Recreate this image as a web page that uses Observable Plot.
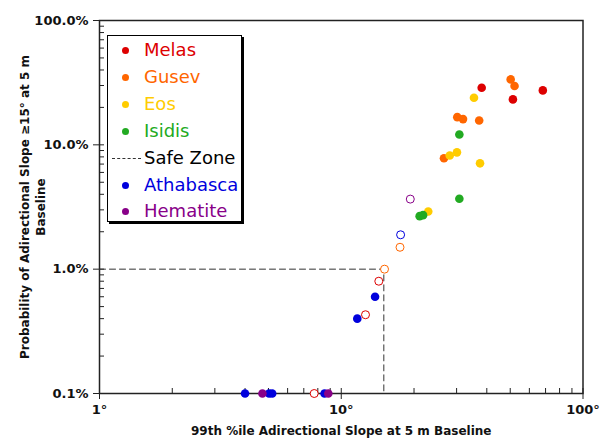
<!DOCTYPE html>
<html>
<head>
<meta charset="utf-8">
<script src="https://cdn.jsdelivr.net/npm/d3@7"></script>
<script src="https://cdn.jsdelivr.net/npm/@observablehq/plot@0.6"></script>
<style>
  html, body { margin: 0; padding: 0; background: #fff; }
  #wrap { position: relative; width: 607px; height: 442px; font-family: "DejaVu Sans", sans-serif; }
  #legend { position: absolute; left: 107px; top: 35px; width: 135px; height: 187px; border: 1px solid #000; background: #fff; box-shadow: 2px 2px 0 #000; box-sizing: border-box; }
  .row { position: absolute; left: 0; height: 20px; line-height: 20px; font-size: 18px; white-space: nowrap; }
  .row .sym { position: absolute; left: 14px; top: 7px; width: 7px; height: 7px; border-radius: 50%; }
  .row .dash { position: absolute; left: 4px; top: 10px; width: 29px; border-top: 1px dashed #333; }
  .row .lbl { position: absolute; left: 36px; top: 0; }
</style>
</head>
<body>
<div id="wrap"><div id="chart"></div><div id="legend"></div></div>
<script>
// ---- data ----
const regions = ["Melas", "Gusev", "Eos", "Isidis", "Athabasca", "Hematite"];
const regionColors = ["#dd0000", "#ff6600", "#ffcc00", "#22aa22", "#0000dd", "#880088"];

const ptRegion = [
  "Melas","Melas","Melas","Melas","Melas","Melas",
  "Gusev","Gusev","Gusev","Gusev","Gusev","Gusev","Gusev","Gusev",
  "Eos","Eos","Eos","Eos","Eos",
  "Isidis","Isidis","Isidis","Isidis",
  "Athabasca","Athabasca","Athabasca","Athabasca","Athabasca","Athabasca","Athabasca",
  "Hematite","Hematite","Hematite"
];
const ptSlope = [
  38.1, 68.2, 51.3, 14.3, 12.6, 7.73,
  50.2, 52.1, 30.2, 31.9, 37.2, 26.6, 17.5, 15.1,
  35.4, 28.1, 30.1, 37.5, 22.9,
  30.8, 30.8, 21.1, 21.8,
  13.8, 11.65, 4.0, 5.03, 5.18, 8.53, 17.6,
  4.72, 8.84, 19.3
];
const ptProb = [
  28.8, 27.4, 23.2, 0.80, 0.43, 0.1,
  33.6, 29.7, 16.7, 16.1, 15.7, 7.8, 1.50, 1.0,
  23.9, 8.2, 8.7, 7.1, 2.91,
  12.1, 3.68, 2.67, 2.72,
  0.60, 0.40, 0.1, 0.1, 0.1, 0.1, 1.89,
  0.1, 0.1, 3.66
];
const ptFilled = [
  true, true, true, false, false, false,
  true, true, true, true, true, true, false, false,
  true, true, true, true, true,
  true, true, true, true,
  true, true, true, true, true, true, false,
  true, true, false
];

const safeX = [1, 15, 15];
const safeY = [1, 1, 0.1];

const xTicks = [1, 10, 100];
const xTickLabels = ["1°", "10°", "100°"];
const yTicks = [0.1, 1, 10, 100];
const yTickLabels = ["0.1%", "1.0%", "10.0%", "100.0%"];

const xTitle = "99th %ile Adirectional Slope at 5 m Baseline";
const yTitle = "Probability of Adirectional Slope \u226515° at 5 m\nBaseline";

// ---- build ----
const points = ptSlope.map((x, i) => ({x, y: ptProb[i], region: ptRegion[i], filled: ptFilled[i]}));
const safe = safeX.map((x, i) => ({x, y: safeY[i]}));
const minorOf = (majors) => {
  const out = [];
  for (let k = 0; k < majors.length - 1; k++) for (let m = 2; m <= 9; m++) out.push(majors[k] * m);
  return out;
};
const xMinor = minorOf(xTicks);
const yMinor = minorOf(yTicks);
const colorOf = r => regionColors[regions.indexOf(r)];
const font = "DejaVu Sans, sans-serif";

const chart = Plot.plot({
  width: 607,
  height: 442,
  marginLeft: 99,
  marginRight: 24.5,
  marginTop: 20,
  marginBottom: 49,
  style: {fontFamily: font, background: "white"},
  x: {type: "log", domain: [1, 100], axis: null},
  y: {type: "log", domain: [0.1, 100], axis: null},
  marks: [
    Plot.frame({stroke: "#222", strokeWidth: 1.5}),
    // inward minor + major ticks
    Plot.axisY([...yMinor, ...yTicks], {anchor: "left", label: null, tickSize: -5, tickFormat: () => "", stroke: "#222"}),
    Plot.axisX([...xMinor, ...xTicks], {anchor: "bottom", label: null, tickSize: -5, tickFormat: () => "", stroke: "#222"}),
    // outward major ticks with labels
    Plot.axisY(yTicks, {anchor: "left", label: null, tickSize: 6, tickPadding: 5, tickFormat: d => yTickLabels[yTicks.indexOf(d)],
      fontSize: 13, fontWeight: "bold", fill: "#111", stroke: "#222"}),
    Plot.axisX(xTicks, {anchor: "bottom", label: null, tickSize: 6, tickPadding: 5, tickFormat: d => xTickLabels[xTicks.indexOf(d)],
      fontSize: 13, fontWeight: "bold", fill: "#111", stroke: "#222"}),
    Plot.line(safe, {x: "x", y: "y", stroke: "#333", strokeWidth: 1, strokeDasharray: "6,4"}),
    Plot.dot(points.filter(d => !d.filled), {x: "x", y: "y", r: 4, stroke: d => colorOf(d.region), fill: "white", strokeWidth: 1}),
    Plot.dot(points.filter(d => d.filled), {x: "x", y: "y", r: 4.3, fill: d => colorOf(d.region), stroke: "none"}),
    Plot.text([xTitle], {frameAnchor: "bottom", dy: 41, text: d => d, fontSize: 12, fontWeight: "bold", fill: "#111"}),
    Plot.text([yTitle], {frameAnchor: "left", dx: -68, rotate: -90, text: d => d, textAnchor: "middle", fontSize: 12, fontWeight: "bold", fill: "#111", lineHeight: 1.33, lineAnchor: "middle"})
  ]
});
document.getElementById("chart").appendChild(chart);

// legend
const legend = document.getElementById("legend");
const legendItems = ["Melas", "Gusev", "Eos", "Isidis", "Safe Zone", "Athabasca", "Hematite"];
legendItems.forEach((name, i) => {
  const row = document.createElement("div");
  row.className = "row";
  row.style.top = (4 + i * 26.9) + "px";
  const isSafe = name === "Safe Zone";
  const c = isSafe ? "#000" : colorOf(name);
  row.innerHTML = (isSafe ? `<span class="dash"></span>` : `<span class="sym" style="background:${c}"></span>`) +
    `<span class="lbl" style="color:${c}">${name}</span>`;
  legend.appendChild(row);
});
</script>
</body>
</html>
